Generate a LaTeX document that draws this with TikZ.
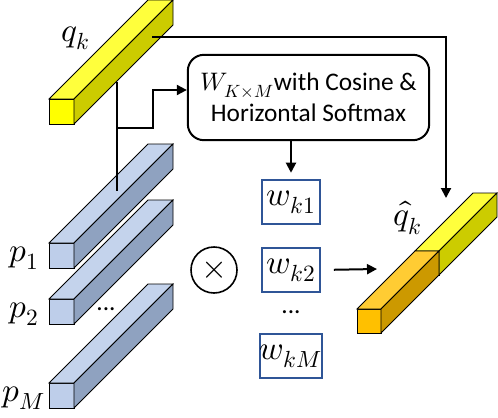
\documentclass[tikz,border=0pt]{standalone}
\usepackage{amsmath}
\usepackage{fontspec}
\usepackage{unicode-math}
\setmainfont{Carlito}
\setmathfont{Latin Modern Math}
\usepackage{tikz}
\usetikzlibrary{arrows.meta,calc}

\definecolor{qfront}{RGB}{255,255,0}
\definecolor{qtop}{RGB}{255,255,60}
\definecolor{qside}{RGB}{204,204,0}
\definecolor{ofront}{RGB}{255,192,0}
\definecolor{otop}{RGB}{255,204,51}
\definecolor{oside}{RGB}{204,153,0}
\definecolor{pfront}{RGB}{190,206,234}
\definecolor{ptop}{RGB}{196,211,236}
\definecolor{pside}{RGB}{143,162,192}
\definecolor{wblue}{RGB}{47,85,151}

% prism: x, y (front top-left), side, depth, front, top, side colours
\newcommand{\prism}[7]{%
  \draw[fill=#5] (#1,#2) rectangle ++(#3,#3);
  \draw[fill=#6] (#1,#2) -- ++(#4,-#4) -- ++(#3,0) -- ++(-#4,#4) -- cycle;
  \draw[fill=#7] (#1+#3,#2) -- ++(#4,-#4) -- ++(0,#3) -- ++(-#4,#4) -- cycle;
}

\begin{document}
\begin{tikzpicture}[x=0.75pt,y=0.75pt,yscale=-1,xscale=1,
  txt/.style={font=\fontsize{19}{23}\selectfont, inner sep=1pt},
  mth/.style={font=\fontsize{25}{29}\selectfont, inner sep=1pt},
  wbox/.style={mth, draw=wblue, line width=0.9pt, minimum width=43.5pt, minimum height=33pt, inner sep=0pt},
  flow/.style={line width=1.5pt, -{Triangle[length=7.5pt,width=7.5pt]}},
  wire/.style={line width=1.5pt}]

  \useasboundingbox (0,0) rectangle (498,417);

  %Shape: query bar
  \begin{scope}[line width=0.6pt]
  \prism{49}{99}{25}{99}{qfront}{qtop}{qside}
  %Shape: key bars
  \prism{49}{243}{25}{99}{pfront}{ptop}{pside}
  \prism{49}{299}{25}{99}{pfront}{ptop}{pside}
  \prism{49}{383}{25}{99}{pfront}{ptop}{pside}
  %Shape: output bar
  \prism{415}{251}{24}{58}{qfront}{qtop}{qside}
  \prism{357}{309}{24}{58}{ofront}{otop}{oside}
  \end{scope}

  % Coordinates
  \coordinate (qk-out) at (152,37);
  \coordinate (qk-tap) at (117,82);
  \coordinate (qk-split) at (117,128);
  \coordinate (qk-foot) at (117,191);
  \coordinate (hq-in) at (446,198);
  \coordinate (hq-left) at (377,269);

  % Text Node
  \node[txt, draw, rounded corners=12pt, line width=1.5pt, minimum width=181pt, minimum height=64pt, align=center] (attn) at (308.5,97.5)
    {$W_{K\times M}$with Cosine \&\\Horizontal Softmax};
  % Text Node
  \node[wbox] (wk1) at (291,202) {$w_{k1}$};
  \node[wbox] (wk2) at (291,270) {$w_{k2}$};
  \node[wbox] (wkM) at (291,356) {$w_{kM}$};
  \node[txt] (wdots) at (291,312) {...};
  \node[txt] (pdots) at (106,309) {...};
  % Text Node
  \node[mth, draw, circle, line width=1.2pt, minimum size=34.5pt, inner sep=0pt] (mul) at (214,270) {$\times$};
  % Text Node
  \node[mth] (qk) at (76,38) {$q_k$};
  \node[mth] (p1) at (24,258) {$p_1$};
  \node[mth] (p2) at (24,314) {$p_2$};
  \node[mth] (pM) at (24,398) {$p_M$};
  \node[mth] (hqk) at (408,218) {$\hat{q}_k$};

  % Connectors
  \draw[wire] (qk-tap) -- (qk-foot);
  \draw[flow] (qk-split) -- ++(36,0) |- ($(attn.west)+(0,-7.5)$);
  \draw[flow] (qk-out) -| (hq-in);
  \draw[flow, shorten >=5pt] (attn.south -| wk1.north) -- (wk1.north);
  \draw[flow, shorten <=10pt] (wk2.east) -- (hq-left);

\end{tikzpicture}
\end{document}
